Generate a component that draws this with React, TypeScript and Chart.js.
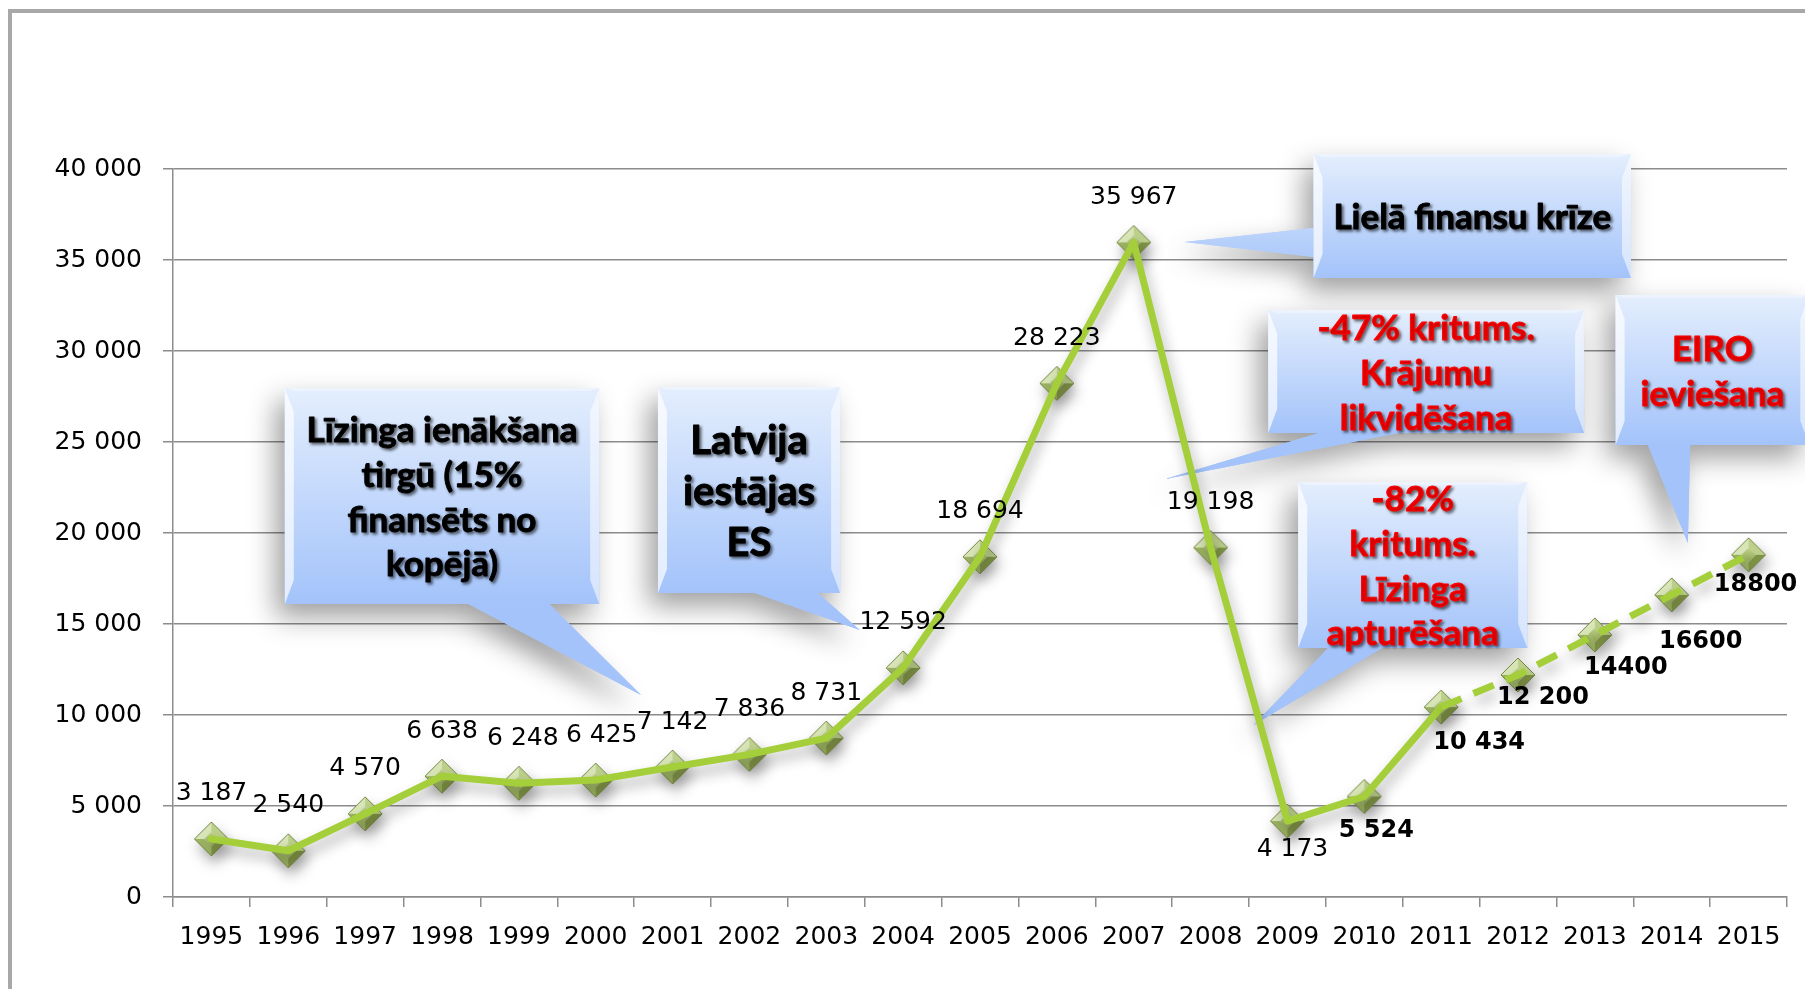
import React, { useEffect, useRef } from 'react';
import { Chart, registerables } from 'chart.js';

Chart.register(...registerables);

// ---------- data ----------
const years = ['1995', '1996', '1997', '1998', '1999', '2000', '2001', '2002', '2003', '2004', '2005', '2006', '2007', '2008', '2009', '2010', '2011', '2012', '2013', '2014', '2015'];
const values = [3187, 2540, 4570, 6638, 6248, 6425, 7142, 7836, 8731, 12592, 18694, 28223, 35967, 19198, 4173, 5524, 10434, 12200, 14400, 16600, 18800];
const valueLabels = ['3 187', '2 540', '4 570', '6 638', '6 248', '6 425', '7 142', '7 836', '8 731', '12 592', '18 694', '28 223', '35 967', '19 198', '4 173', '5 524', '10 434', '12 200', '14400', '16600', '18800'];
const forecastFrom = 16; // index where the dashed (forecast) part starts
const yMin = 0;
const yMax = 40000;
const yStep = 5000;

// label placement (style): [dx, dy, bold]
const labelPlacement: [number, number, boolean][] = [
  [0, -45, false], [0, -45, false], [0, -45, false], [0, -45, false], [4, -45, false], [6, -45, false],
  [0, -45, false], [0, -45, false], [0, -45, false], [0, -45, false], [0, -45, false], [0, -45, false],
  [0, -45, false], [0, -45, false], [5, 28, false], [12, 34, true], [38, 36, true], [25, 23, true],
  [31, 33, true], [29, 47, true], [7, 30, true],
];

// callouts (annotation text, anchored in data units: x = category index, y = value)
type Callout = { lines: string[]; color: string; size: number; box: [number, number, number, number]; wedge: [number, number][] };
const callouts: Callout[] = [
  { lines: ['Līzinga ienākšana', 'tirgū (15%', 'finansēts no', 'kopējā)'], color: '#000000', size: 35,
    box: [0.955, 5.045, 27967, 16099], wedge: [[3.344, 16099], [4.396, 16099], [5.59, 11099]] },
  { lines: ['Latvija', 'iestājas', 'ES'], color: '#000000', size: 40,
    box: [5.81, 8.18, 28022, 16703], wedge: [[7.07, 16703], [7.89, 16703], [8.435, 14670]] },
  { lines: ['Lielā finansu krīze'], color: '#000000', size: 35,
    box: [14.34, 18.47, 40824, 34011], wedge: [[14.34, 36758], [14.34, 35165], [12.66, 35989]] },
  { lines: ['-47% kritums.', 'Krājumu', 'likvidēšana'], color: '#ff0000', size: 35,
    box: [13.75, 17.86, 32253, 25494], wedge: [[14.41, 25494], [15.45, 25494], [12.41, 22967]] },
  { lines: ['-82%', 'kritums.', 'Līzinga', 'apturēšana'], color: '#ff0000', size: 35,
    box: [14.14, 17.12, 22802, 13681], wedge: [[14.53, 13681], [15.23, 13681], [13.56, 9451]] },
  { lines: ['EIRO', 'ieviešana'], color: '#ff0000', size: 35,
    box: [18.27, 20.79, 33077, 24835], wedge: [[18.69, 24835], [19.24, 24835], [19.21, 19451]] },
];

const LINE_COLOR = '#a4cf3a';
const GRID_COLOR = '#8c8c8c';
const FONT = "'DejaVu Sans', sans-serif";

const fmt = (v: number) => String(v).replace(/\B(?=(\d{3})+(?!\d))/g, ' ');

function makeDiamond(r: number): HTMLCanvasElement {
  const s = Math.ceil(r * 2 + 2);
  const c = document.createElement('canvas');
  c.width = s;
  c.height = s;
  const g = c.getContext('2d')!;
  const m = s / 2;
  const ir = r * 0.42;
  const T = [m, m - r], R = [m + r, m], B = [m, m + r], L = [m - r, m];
  const t = [m, m - ir], rr = [m + ir, m], b = [m, m + ir], l = [m - ir, m];
  const poly = (pts: number[][], fill: string | CanvasGradient) => {
    g.beginPath();
    g.moveTo(pts[0][0], pts[0][1]);
    for (let i = 1; i < pts.length; i++) g.lineTo(pts[i][0], pts[i][1]);
    g.closePath();
    g.fillStyle = fill;
    g.fill();
  };
  poly([L, T, t, l], '#d8e5b6');
  poly([T, R, rr, t], '#bccf8b');
  poly([R, B, b, rr], '#7f9346');
  poly([B, L, l, b], '#9bb262');
  const ig = g.createLinearGradient(0, m - ir, 0, m + ir);
  ig.addColorStop(0, '#bfd38a');
  ig.addColorStop(1, '#92a954');
  poly([t, rr, b, l], ig);
  g.beginPath();
  g.moveTo(T[0], T[1]); g.lineTo(R[0], R[1]); g.lineTo(B[0], B[1]); g.lineTo(L[0], L[1]); g.closePath();
  g.strokeStyle = '#768844';
  g.lineWidth = 1;
  g.stroke();
  return c;
}

const framePlugin = {
  id: 'frame',
  beforeDraw(chart: any) {
    const ctx = chart.ctx;
    ctx.save();
    ctx.strokeStyle = '#a8a8a8';
    ctx.lineWidth = 4;
    ctx.strokeRect(10, 11, 2400, 2400);
    ctx.restore();
  },
};

const calloutPlugin = {
  id: 'callouts',
  beforeDatasetsDraw(chart: any) {
    const ctx: CanvasRenderingContext2D = chart.ctx;
    const sx = chart.scales.x, sy = chart.scales.y;
    const P = (ix: number, v: number) => [sx.getPixelForValue(ix), sy.getPixelForValue(v)];
    callouts.forEach((c) => {
      const [x0, y0] = P(c.box[0], c.box[2]);
      const [x1, y1] = P(c.box[1], c.box[3]);
      const w = x1 - x0, h = y1 - y0;
      const wp = c.wedge.map(([a, v]) => P(a, v));
      const grad = ctx.createLinearGradient(0, y0, 0, y1);
      grad.addColorStop(0, '#e4eefd');
      grad.addColorStop(1, '#a3c3fa');
      const shapes = () => {
        ctx.fillRect(x0, y0, w, h);
        ctx.beginPath();
        ctx.moveTo(wp[0][0], wp[0][1]);
        ctx.lineTo(wp[1][0], wp[1][1]);
        ctx.lineTo(wp[2][0], wp[2][1]);
        ctx.closePath();
        ctx.fill();
      };
      ctx.save();
      ctx.fillStyle = grad;
      ctx.shadowColor = 'rgba(0,0,0,0.38)';
      ctx.shadowBlur = 26;
      ctx.shadowOffsetX = -9;
      ctx.shadowOffsetY = 13;
      shapes();
      ctx.restore();
      ctx.save();
      ctx.fillStyle = grad;
      shapes();
      // bevels
      const bw = 9, bd = 24;
      ctx.fillStyle = 'rgba(255,255,255,0.7)';
      ctx.beginPath();
      ctx.moveTo(x0, y0); ctx.lineTo(x0 + bw, y0 + bd); ctx.lineTo(x0 + bw, y1 - bd); ctx.lineTo(x0, y1); ctx.closePath();
      ctx.fill();
      ctx.fillStyle = 'rgba(255,255,255,0.55)';
      ctx.beginPath();
      ctx.moveTo(x1, y0); ctx.lineTo(x1 - bw, y0 + bd); ctx.lineTo(x1 - bw, y1 - bd); ctx.lineTo(x1, y1); ctx.closePath();
      ctx.fill();
      ctx.fillStyle = 'rgba(255,255,255,0.35)';
      ctx.beginPath();
      ctx.moveTo(x0, y0); ctx.lineTo(x1, y0); ctx.lineTo(x1 - bw, y0 + 3); ctx.lineTo(x0 + bw, y0 + 3); ctx.closePath();
      ctx.fill();
      // text
      ctx.font = `bold ${c.size}px Lato, 'Open Sans', sans-serif`;
      ctx.textAlign = 'center';
      ctx.textBaseline = 'middle';
      ctx.fillStyle = c.color;
      ctx.strokeStyle = c.color;
      ctx.lineWidth = 0.9;
      ctx.lineJoin = 'round';
      ctx.shadowColor = 'rgba(0,0,0,0.55)';
      ctx.shadowBlur = 3;
      ctx.shadowOffsetX = 2;
      ctx.shadowOffsetY = 2;
      const lh = c.size * 1.28;
      const cx = (x0 + x1) / 2;
      const cy = (y0 + y1) / 2 + 2;
      const n = c.lines.length;
      c.lines.forEach((ln, i) => {
        const yy = cy + (i - (n - 1) / 2) * lh;
        ctx.fillText(ln, cx, yy);
        ctx.strokeText(ln, cx, yy);
      });
      ctx.restore();
    });
  },
};

const shadowPlugin = {
  id: 'lineShadow',
  beforeDatasetDraw(chart: any) {
    const ctx = chart.ctx;
    ctx.save();
    ctx.shadowColor = 'rgba(0,0,0,0.32)';
    ctx.shadowBlur = 14;
    ctx.shadowOffsetX = 3;
    ctx.shadowOffsetY = 8;
  },
  afterDatasetDraw(chart: any) {
    chart.ctx.restore();
  },
};

const labelPlugin = {
  id: 'valueLabels',
  afterDatasetsDraw(chart: any) {
    const ctx: CanvasRenderingContext2D = chart.ctx;
    const meta = chart.getDatasetMeta(0);
    ctx.save();
    ctx.textAlign = 'center';
    ctx.textBaseline = 'middle';
    ctx.fillStyle = '#000000';
    meta.data.forEach((pt: any, i: number) => {
      const [dx, dy, bold] = labelPlacement[i];
      ctx.font = bold ? `bold 24px ${FONT}` : `25px ${FONT}`;
      ctx.fillText(valueLabels[i], pt.x + dx, pt.y + dy);
    });
    ctx.restore();
  },
};

export default function App() {
  const ref = useRef<HTMLCanvasElement | null>(null);
  useEffect(() => {
    if (!ref.current) return;
    const diamond = makeDiamond(17);
    const chart = new Chart(ref.current, {
      type: 'line',
      data: {
        labels: years,
        datasets: [
          {
            label: 'markers',
            data: values,
            showLine: false,
            pointStyle: diamond as any,
            pointRadius: 17,
            order: 2,
            clip: false as any,
          },
          {
            label: 'line',
            data: values,
            borderColor: LINE_COLOR,
            borderWidth: 7,
            pointRadius: 0,
            tension: 0,
            fill: false,
            borderCapStyle: 'round',
            borderJoinStyle: 'round',
            order: 1,
            clip: false as any,
            segment: {
              borderDash: (c: any) => (c.p0DataIndex >= forecastFrom ? [22, 13] : undefined),
              borderCapStyle: (c: any) => (c.p0DataIndex >= forecastFrom ? 'butt' : 'round'),
            } as any,
          },
        ],
      },
      options: {
        responsive: false,
        animation: false,
        devicePixelRatio: 1,
        layout: { padding: { left: 0, top: 169, right: 15, bottom: 0 } },
        plugins: { legend: { display: false }, tooltip: { enabled: false }, title: { display: false } },
        scales: {
          x: {
            type: 'category',
            offset: true,
            grid: { drawOnChartArea: false, drawTicks: true, tickLength: 10, offset: true, color: GRID_COLOR, lineWidth: 1.5 },
            border: { display: true, color: GRID_COLOR, width: 1.5 },
            ticks: { font: { family: FONT, size: 25 }, color: '#000000', padding: 15, maxRotation: 0, autoSkip: false },
            afterFit: (s: any) => { s.height = 92; },
          },
          y: {
            min: yMin,
            max: yMax,
            ticks: { stepSize: yStep, font: { family: FONT, size: 25 }, color: '#000000', padding: 21, callback: (v: any) => fmt(Number(v)) },
            grid: { color: GRID_COLOR, lineWidth: 1.5, tickLength: 10, drawTicks: true },
            border: { display: true, color: GRID_COLOR, width: 1.5 },
            afterFit: (s: any) => { s.width = 173; },
          },
        },
      },
      plugins: [framePlugin, calloutPlugin, shadowPlugin, labelPlugin],
    });
    return () => chart.destroy();
  }, []);
  return (
    <div style={{ position: 'fixed', left: 0, top: 0, width: 1805, height: 989, background: '#ffffff', overflow: 'hidden' }}>
      <canvas ref={ref} width={1805} height={989} style={{ display: 'block' }} />
    </div>
  );
}
